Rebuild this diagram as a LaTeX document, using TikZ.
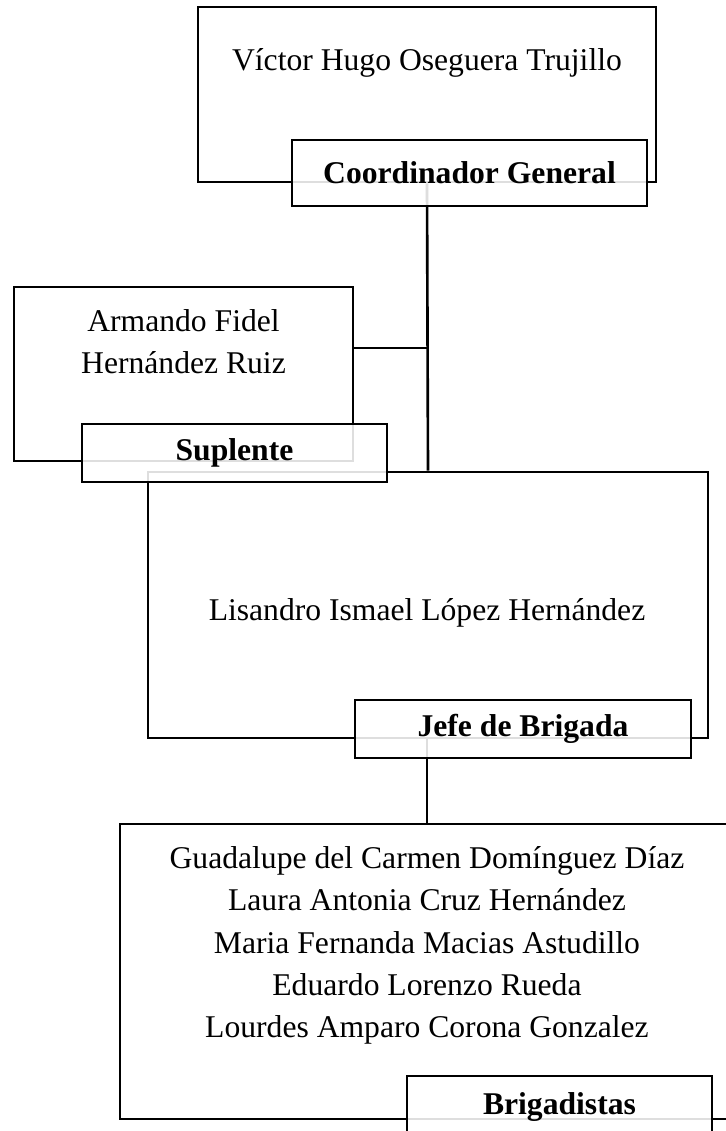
\documentclass[tikz,border=0pt]{standalone}
\usepackage{fontspec}
\setmainfont{Liberation Serif}
\usepackage{tikz}
\usetikzlibrary{positioning}

\begin{document}
\begin{tikzpicture}[
            box/.style = {rectangle, draw, line width=1.6pt, inner sep=0pt},
            tag/.style = {rectangle, draw, line width=1.6pt, inner sep=0pt, fill=white, fill opacity=0.87, text opacity=1, font=\bfseries\fontsize{18}{22}\selectfont},
            person/.style = {align=center, font=\fontsize{18}{24}\selectfont},
            link/.style = {draw, line width=1.5pt},
        ]
            \useasboundingbox (0,0) rectangle (14.52,-22.62);

            % Boxes of the chart
            \node[box, minimum width=9.16cm, minimum height=3.5cm] (coord) at (8.54,-1.89) {};
            \node[box, minimum width=6.78cm, minimum height=3.48cm] (supl) at (3.67,-7.48) {};
            \node[box, minimum width=11.2cm, minimum height=5.32cm] (jefe) at (8.56,-12.10) {};
            \node[box, minimum width=12.28cm, minimum height=5.9cm] (brig) at (8.54,-19.43) {};

            % Names inside the boxes
            \node[person] (coordname) at (8.54,-1.25) {Víctor Hugo Oseguera Trujillo};
            \node[person] (suplname) at (3.67,-6.84) {Armando Fidel\\Hernández Ruiz};
            \node[person] (jefename) at (8.54,-12.26) {Lisandro Ismael López Hernández};
            \node[person] (brigname) at (8.54,-18.91) {Guadalupe del Carmen Domínguez Díaz\\Laura Antonia Cruz Hernández\\Maria Fernanda Macias Astudillo\\Eduardo Lorenzo Rueda\\Lourdes Amparo Corona Gonzalez};

            % Connectors
            \coordinate (suplhook) at (7.06,-6.96);
            \draw[link] (coord.south) -- (jefe.north);
            \draw[link] (suplhook) -- (suplhook -| coord.south);
            \draw[link] (jefe.south -| brig.north) -- (brig.north);

            % Role tags over the bottom edges
            \node[tag, minimum width=7.10cm, minimum height=1.32cm] (coordtag) at (9.39,-3.46) {Coordinador General};
            \node[tag, minimum width=6.10cm, minimum height=1.16cm] (supltag) at (4.69,-9.06) {Suplente};
            \node[tag, minimum width=6.72cm, minimum height=1.16cm] (jefetag) at (10.46,-14.58) {Jefe de Brigada};
            \node[tag, minimum width=6.10cm, minimum height=1.24cm] (brigtag) at (11.19,-22.14) {Brigadistas};
        \end{tikzpicture}
\end{document}
